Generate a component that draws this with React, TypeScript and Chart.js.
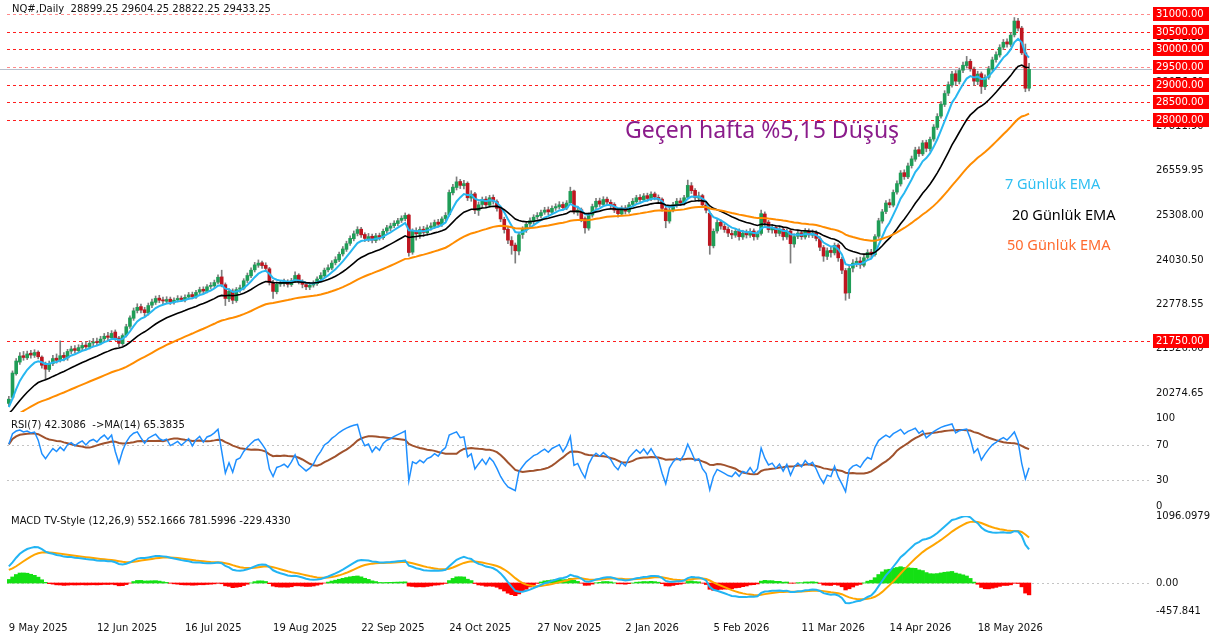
import React, { useEffect, useRef } from 'react';
import { Chart, registerables } from 'chart.js';

Chart.register(...registerables);

const FONT = "'DejaVu Sans', sans-serif";
Chart.defaults.font.family = FONT;
Chart.defaults.font.size = 10;
Chart.defaults.color = '#111';

// ---------- DATA ----------
const xTickLabels = ['9 May 2025', '12 Jun 2025', '16 Jul 2025', '19 Aug 2025', '22 Sep 2025', '24 Oct 2025', '27 Nov 2025', '2 Jan 2026', '5 Feb 2026', '11 Mar 2026', '14 Apr 2026', '18 May 2026'];
const barsPerXLabel = 24;
const emptySlotsRight = 33;

const opens = [19980,20150,20820,21150,21330,21270,21400,21340,21430,21290,
21070,20940,21110,21260,21190,21340,21270,21460,21530,21470,
21550,21630,21570,21690,21730,21690,21810,21890,21840,22000,
21830,21670,21910,22160,22390,22610,22720,22630,22540,22760,
22840,22960,22910,22870,22930,22850,22910,22960,22910,22990,
23060,22990,23130,23210,23150,23290,23310,23410,23560,23340,
22940,23160,22890,23210,23240,23460,23590,23760,23890,23960,
23890,23790,23410,23140,23360,23370,23430,23340,23440,23610,
23430,23340,23270,23330,23370,23510,23590,23760,23810,23960,
24040,24210,24340,24510,24640,24790,24910,24760,24640,24710,
24590,24730,24670,24860,24940,25010,25070,25160,25210,25310,
24260,24860,24770,24910,24810,24960,24990,25110,25040,25210,
25320,25940,26090,26260,26140,26210,25790,25910,25440,25610,
25760,25590,25810,25690,25510,25190,24910,24590,24460,24290,
24760,24890,25060,25140,25260,25290,25390,25460,25390,25510,
25540,25610,25510,25660,25990,25390,25460,25210,24940,25310,
25540,25710,25610,25760,25670,25610,25440,25340,25510,25410,
25610,25690,25810,25740,25860,25770,25910,25810,25760,25490,
25140,25460,25590,25710,25640,25810,26140,26010,25790,25860,
25590,25360,24440,24860,25110,24990,24910,24790,24740,24860,
24690,24810,24740,24860,24690,24790,25340,25110,24890,24960,
24790,24910,24690,24860,24490,24710,24810,24690,24860,24740,
24810,24640,24390,24140,24310,24240,24460,24060,23740,23110,
23810,23940,24010,23890,24110,24260,24190,24710,25140,25410,
25660,25590,25960,26190,26510,26390,26710,26890,27160,27040,
27360,27190,27460,27790,28110,28440,28760,28990,29310,29090,
29410,29540,29660,29440,29090,29310,28940,29210,29440,29710,
29840,30060,30210,30140,30410,30800,30600,29900,28899.25];

const highs = [20180,20900,21250,21420,21450,21460,21480,21500,21470,21330,
21150,21180,21340,21380,21750,21420,21510,21600,21620,21640,
21700,21720,21760,21820,21830,21880,21960,21990,22040,22060,
21880,21950,22220,22460,22680,22800,22790,22700,22820,22930,
23020,23040,22990,23000,22990,22970,23030,23020,23050,23120,
23130,23180,23270,23280,23340,23400,23470,23620,23750,23390,
23230,23220,23260,23330,23510,23670,23820,23970,24040,24010,
23960,23830,23460,23420,23460,23500,23480,23520,23700,23650,
23480,23400,23390,23450,23560,23680,23810,23900,24020,24130,
24260,24420,24570,24720,24860,24980,24960,24810,24790,24770,
24790,24800,24910,25020,25080,25150,25220,25290,25370,25340,
24920,24950,24980,24990,25030,25090,25170,25190,25260,25380,
26020,26180,26390,26320,26290,26250,26000,25950,25680,25820,
25830,25870,25880,25740,25560,25250,24980,24700,24520,24830,
24980,25120,25230,25320,25380,25450,25530,25540,25570,25630,
25690,25680,25720,26100,26020,25560,25510,25260,25370,25620,
25780,25790,25830,25820,25740,25660,25500,25570,25580,25670,
25780,25870,25890,25920,25930,25970,25960,25880,25800,25540,
25520,25670,25780,25790,25870,26300,26230,26060,25960,25900,
25650,25400,24920,25180,25170,25060,24980,24880,24930,24920,
24880,24890,24930,24920,24860,25450,25400,25160,25050,25020,
24970,24960,24920,24900,24780,24880,24870,24930,24920,24890,
24870,24700,24450,24380,24420,24520,24500,24120,23800,23880,
24050,24100,24120,24180,24330,24340,24760,25220,25470,25720,
25760,26020,26280,26570,26590,26780,26980,27230,27240,27420,
27430,27520,27870,28180,28520,28830,29080,29380,29400,29470,
29640,29800,29720,29500,29380,29360,29280,29520,29780,29930,
30130,30280,30300,30470,30900,30880,30650,30150,29604.25];

const lows = [19900,20100,20780,21080,21200,21220,21260,21280,21240,20980,
20650,20880,21050,21120,21150,21180,21200,21390,21400,21420,
21480,21500,21520,21610,21620,21640,21740,21760,21790,21760,
21580,21620,21860,22100,22330,22540,22540,22440,22480,22690,
22780,22830,22800,22810,22780,22790,22850,22860,22850,22930,
22940,22950,23080,23090,23110,23230,23260,23360,23280,22750,
22860,22800,22840,23120,23190,23400,23540,23700,23830,23800,
23720,23330,22950,23080,23290,23300,23270,23290,23400,23360,
23250,23200,23200,23270,23320,23450,23540,23700,23760,23900,
23990,24150,24280,24450,24580,24720,24680,24560,24560,24520,
24530,24600,24620,24800,24870,24950,25010,25100,25150,24150,
24200,24600,24650,24700,24740,24880,24930,24980,24990,25150,
25280,25880,26020,26060,26050,25720,25700,25350,25300,25520,
25520,25540,25620,25420,25120,24800,24500,24200,23950,24180,
24650,24820,24980,25060,25190,25230,25330,25320,25330,25440,
25480,25450,25460,25620,25340,25300,25120,24800,24880,25250,
25480,25550,25560,25600,25520,25380,25250,25290,25340,25360,
25550,25640,25680,25690,25700,25720,25740,25680,25420,24950,
25080,25400,25530,25580,25590,25760,25920,25720,25700,25520,
25370,24200,24380,24800,24910,24820,24700,24640,24680,24600,
24620,24660,24680,24600,24620,24740,25020,24820,24800,24700,
24720,24600,24620,23950,24400,24640,24620,24630,24680,24670,
24580,24300,24000,24050,24120,24180,24000,23650,22900,22950,
23700,23850,23800,23840,24050,24100,24150,24650,25080,25350,
25520,25540,25900,26130,26320,26340,26640,26830,26970,26990,
27100,27120,27400,27730,28050,28380,28690,28930,28980,29020,
29340,29470,29380,28980,29000,28750,28860,29150,29380,29640,
29780,29990,30060,30080,30350,30520,29850,28800,28822.25];

const closes = [20100,20840,21180,21320,21280,21380,21350,21420,21300,21060,
20950,21100,21250,21200,21330,21280,21450,21520,21480,21560,
21620,21580,21680,21720,21700,21800,21880,21850,21960,21820,
21680,21900,22150,22400,22600,22700,22620,22550,22750,22850,
22950,22900,22880,22920,22860,22900,22950,22920,22980,23050,
23000,23120,23200,23160,23280,23320,23400,23550,23350,22950,
23150,22900,23200,23250,23450,23600,23750,23900,23950,23880,
23800,23400,23150,23350,23380,23420,23350,23450,23600,23420,
23350,23280,23320,23380,23500,23600,23750,23820,23950,24050,
24200,24350,24500,24650,24780,24900,24750,24650,24700,24600,
24720,24680,24850,24950,25000,25080,25150,25220,25300,24250,
24850,24780,24900,24820,24950,25000,25100,25050,25200,25300,
25950,26100,26250,26150,26200,25800,25900,25450,25600,25750,
25600,25800,25700,25500,25200,24900,24600,24450,24300,24750,
24900,25050,25150,25250,25300,25380,25450,25400,25500,25550,
25600,25520,25650,25980,25400,25450,25200,24950,25300,25550,
25700,25620,25750,25680,25600,25450,25350,25500,25420,25600,
25700,25800,25750,25850,25780,25900,25820,25750,25500,25150,
25450,25600,25700,25650,25800,26150,26000,25800,25850,25600,
25450,24450,24850,25100,25000,24900,24800,24750,24850,24700,
24800,24750,24850,24700,24780,25350,25100,24900,24950,24800,
24900,24700,24850,24500,24700,24800,24700,24850,24750,24800,
24650,24400,24150,24300,24250,24450,24100,23750,23100,23800,
23950,24000,23900,24100,24250,24200,24700,25150,25400,25650,
25600,25950,26200,26500,26400,26700,26900,27150,27050,27350,
27200,27450,27800,28100,28450,28750,29000,29300,29100,29400,
29550,29650,29450,29100,29300,28950,29200,29450,29700,29850,
30050,30200,30150,30400,30800,30600,29900,28899.25,29433.25];

const ema7Seed = 19800;
const ema20Seed = 19650;
const ema50Seed = 19500;
const rsiPrevClose = 19950;
const rsiGainSeed = 120;
const rsiLossSeed = 60;
const macdFastSeed = 19700;
const macdSlowSeed = 19440;
const macdSignalSeed = 200;

const priceTicks = [20274.65, 21526.6, 22778.55, 24030.5, 25308.0, 26559.95, 27811.9, 29076.6, 30341.35];
const levelLines = [31000, 30500, 30000, 29500, 29000, 28500, 28000, 21750];
const lightLevels = [31000, 29500];
const lastPrice = 29433.25;
const rsiTicks = [0, 30, 70, 100];
const rsiLevels = [70, 30];
const macdTicks = [-457.841, 0, 1096.0979];
const macdTickLabels = ['-457.841', '0.00', '1096.0979'];

const headerText = 'NQ#,Daily  28899.25 29604.25 28822.25 29433.25';
const rsiText = 'RSI(7) 42.3086  ->MA(14) 65.3835';
const macdText = 'MACD TV-Style (12,26,9) 552.1666 781.5996 -229.4330';
const noteText = 'Geçen hafta %5,15 Düşüş';
const emaLabels = ['7 Günlük EMA', '20 Günlük EMA', '50 Günlük EMA'];

// ---------- indicator helpers ----------
function emaSeries(values: number[], period: number, seed: number): number[] {
  const k = 2 / (period + 1);
  let prev = seed;
  return values.map((v) => {
    prev = prev + k * (v - prev);
    return prev;
  });
}
function rsiSeries(values: number[], period: number, prevClose: number, g0: number, l0: number): number[] {
  let ag = g0, al = l0, pc = prevClose;
  return values.map((v) => {
    const ch = v - pc;
    pc = v;
    ag = (ag * (period - 1) + Math.max(ch, 0)) / period;
    al = (al * (period - 1) + Math.max(-ch, 0)) / period;
    return al === 0 ? 100 : 100 - 100 / (1 + ag / al);
  });
}
function smaSeries(values: number[], period: number): number[] {
  return values.map((_, i) => {
    const from = Math.max(0, i - period + 1);
    let s = 0;
    for (let j = from; j <= i; j++) s += values[j];
    return s / (i - from + 1);
  });
}

const nBars = closes.length;
const slotCount = nBars + emptySlotsRight;
const categories = Array.from({ length: slotCount }, (_, i) =>
  i % barsPerXLabel === 0 && xTickLabels[i / barsPerXLabel] ? xTickLabels[i / barsPerXLabel] : ''
);

const ema7 = emaSeries(closes, 7, ema7Seed);
const ema20 = emaSeries(closes, 20, ema20Seed);
const ema50 = emaSeries(closes, 50, ema50Seed);
const rsi = rsiSeries(closes, 7, rsiPrevClose, rsiGainSeed, rsiLossSeed);
const rsiMa = smaSeries(rsi, 14);
const fast = emaSeries(closes, 12, macdFastSeed);
const slow = emaSeries(closes, 26, macdSlowSeed);
const macd = fast.map((v, i) => v - slow[i]);
const signal = emaSeries(macd, 9, macdSignalSeed);
const hist = macd.map((v, i) => v - signal[i]);

// ---------- common config ----------
const AXIS_W = 59;
const axisFont = { family: FONT, size: 10 };

function xScale(show: boolean): any {
  return {
    type: 'category',
    offset: true,
    display: show,
    grid: { display: false },
    border: { display: false },
    ticks: {
      display: show,
      autoSkip: false,
      maxRotation: 0,
      minRotation: 0,
      align: 'start',
      padding: 3,
      font: axisFont,
      color: '#111',
    },
    afterFit: (s: any) => {
      if (show) s.height = 26;
    },
  };
}

function yScale(min: number, max: number, tickValues: number[], fmt: (v: number) => string): any {
  return {
    position: 'right',
    min,
    max,
    grid: { display: false, drawTicks: false },
    border: { display: false },
    ticks: { padding: 4, font: axisFont, color: '#111', callback: (v: any) => fmt(Number(v)) },
    afterBuildTicks: (s: any) => {
      s.ticks = tickValues.map((v) => ({ value: v }));
    },
    afterFit: (s: any) => {
      s.width = AXIS_W;
    },
  };
}

const baseOptions = (padTop: number, padBottom: number) => ({
  responsive: false,
  animation: false as const,
  devicePixelRatio: 1,
  events: [] as any[],
  layout: { padding: { left: 7, right: 0, top: padTop, bottom: padBottom } },
  plugins: { legend: { display: false }, tooltip: { enabled: false } },
});

const mainOverlay = {
  id: 'mainOverlay',
  beforeDatasetsDraw(chart: any) {
    const { ctx, chartArea } = chart;
    const y = chart.scales.y;
    ctx.save();
    const by = Math.round(y.getPixelForValue(lastPrice)) + 0.5;
    ctx.strokeStyle = '#b8bfcc';
    ctx.lineWidth = 1;
    ctx.beginPath();
    ctx.moveTo(0, by);
    ctx.lineTo(chartArea.right, by);
    ctx.stroke();
    ctx.setLineDash([3, 3]);
    levelLines.forEach((v) => {
      const py = Math.round(y.getPixelForValue(v)) + 0.5;
      ctx.strokeStyle = lightLevels.includes(v) ? '#ff8a8a' : '#ff1e1e';
      ctx.beginPath();
      ctx.moveTo(chartArea.left, py);
      ctx.lineTo(chartArea.right, py);
      ctx.stroke();
    });
    ctx.restore();
  },
  afterDraw(chart: any) {
    const { ctx, chartArea } = chart;
    const y = chart.scales.y;
    ctx.save();
    ctx.font = `10px ${FONT}`;
    ctx.textBaseline = 'middle';
    ctx.textAlign = 'left';
    levelLines.forEach((v) => {
      const py = Math.round(y.getPixelForValue(v));
      ctx.fillStyle = '#ff0000';
      ctx.fillRect(chartArea.right + 1, py - 7, 56, 14);
      ctx.fillStyle = '#ffffff';
      ctx.fillText(v.toFixed(2), chartArea.right + 4, py + 0.5);
    });
    ctx.restore();
  },
};

function dottedLevels(id: string, scaleId: string, values: number[]) {
  return {
    id,
    beforeDatasetsDraw(chart: any) {
      const { ctx, chartArea } = chart;
      const s = chart.scales[scaleId];
      ctx.save();
      ctx.strokeStyle = '#c4c4c4';
      ctx.lineWidth = 1;
      ctx.setLineDash([2, 3]);
      values.forEach((v) => {
        const py = Math.round(s.getPixelForValue(v)) + 0.5;
        ctx.beginPath();
        ctx.moveTo(chartArea.left, py);
        ctx.lineTo(chartArea.right, py);
        ctx.stroke();
      });
      ctx.restore();
    },
  };
}

const lineDs = (label: string, data: number[], color: string, width: number, order: number): any => ({
  type: 'line',
  label,
  data,
  borderColor: color,
  backgroundColor: color,
  borderWidth: width,
  pointRadius: 0,
  tension: 0,
  fill: false,
  order,
});

export default function App() {
  const mainRef = useRef<HTMLCanvasElement>(null);
  const rsiRef = useRef<HTMLCanvasElement>(null);
  const macdRef = useRef<HTMLCanvasElement>(null);

  useEffect(() => {
    document.body.style.margin = '0';
    const charts: Chart[] = [];
    const bull = closes.map((c, i) => c >= opens[i]);

    charts.push(
      new Chart(mainRef.current as HTMLCanvasElement, {
        type: 'bar',
        data: {
          labels: categories,
          datasets: [
            lineDs('EMA50', ema50, '#ff8c00', 2, 0),
            lineDs('EMA20', ema20, '#000000', 1.6, 0),
            lineDs('EMA7', ema7, '#27b7f0', 2, 0),
            {
              type: 'bar',
              label: 'body',
              data: opens.map((o, i) => [o, closes[i]]),
              backgroundColor: bull.map((b) => (b ? '#1f9d57' : '#be1620')),
              borderWidth: 0,
              barThickness: 3,
              minBarLength: 1,
              grouped: false,
              order: 2,
            } as any,
            {
              type: 'bar',
              label: 'wick',
              data: lows.map((l, i) => [l, highs[i]]),
              backgroundColor: '#7d7d7d',
              borderWidth: 0,
              barThickness: 1,
              grouped: false,
              order: 3,
            } as any,
          ],
        },
        options: {
          ...baseOptions(18, 14),
          scales: {
            x: xScale(false),
            y: yScale(19737, 31226, priceTicks, (v) => v.toFixed(2)),
          },
        } as any,
        plugins: [mainOverlay],
      })
    );

    charts.push(
      new Chart(rsiRef.current as HTMLCanvasElement, {
        type: 'line',
        data: {
          labels: categories,
          datasets: [
            lineDs('MA', rsiMa, '#a0522d', 2, 1),
            lineDs('RSI', rsi, '#1e8fff', 1.5, 0),
          ],
        },
        options: {
          ...baseOptions(18, 14),
          scales: {
            x: xScale(false),
            y: yScale(-4.3, 103.1, rsiTicks, (v) => String(Math.round(v))),
          },
        } as any,
        plugins: [dottedLevels('rsiLevels', 'y', rsiLevels)],
      })
    );

    charts.push(
      new Chart(macdRef.current as HTMLCanvasElement, {
        type: 'bar',
        data: {
          labels: categories,
          datasets: [
            lineDs('MACD', macd, '#22b4f3', 2, 0),
            lineDs('Signal', signal, '#ffa500', 2, 0),
            {
              type: 'bar',
              label: 'Hist',
              data: hist,
              backgroundColor: hist.map((h) => (h >= 0 ? '#14e014' : '#ff0000')),
              borderWidth: 0,
              barPercentage: 1,
              categoryPercentage: 1,
              order: 2,
            } as any,
          ],
        },
        options: {
          ...baseOptions(18, 0),
          scales: {
            x: xScale(true),
            y: yScale(-457.841, 1096.0979, macdTicks, (v) => {
              const k = macdTicks.indexOf(v);
              return k >= 0 ? macdTickLabels[k] : '';
            }),
          },
        } as any,
        plugins: [dottedLevels('macdZero', 'y', [0])],
      })
    );

    return () => charts.forEach((c) => c.destroy());
  }, []);

  const small: React.CSSProperties = {
    position: 'absolute',
    fontFamily: FONT,
    fontSize: 10,
    lineHeight: '10px',
    color: '#111',
    whiteSpace: 'pre',
  };
  const emaStyle = (color: string, left: number, top: number): React.CSSProperties => ({
    position: 'absolute',
    left,
    top,
    fontFamily: "'Noto Sans', sans-serif",
    fontSize: 14.5,
    lineHeight: '14.5px',
    color,
    whiteSpace: 'pre',
  });

  return (
    <div style={{ position: 'relative', width: 1211, height: 637, overflow: 'hidden', background: '#ffffff' }}>
      <canvas ref={mainRef} width={1211} height={438} style={{ position: 'absolute', left: 0, top: -12 }} />
      <canvas ref={rsiRef} width={1211} height={126} style={{ position: 'absolute', left: 0, top: 398 }} />
      <canvas ref={macdRef} width={1211} height={139} style={{ position: 'absolute', left: 0, top: 498 }} />
      <div style={{ ...small, left: 12, top: 4 }}>{headerText}</div>
      <div style={{ ...small, left: 11, top: 420 }}>{rsiText}</div>
      <div style={{ ...small, left: 11, top: 516 }}>{macdText}</div>
      <div
        style={{
          position: 'absolute',
          left: 625,
          top: 118,
          fontFamily: "'Noto Sans', sans-serif",
          fontSize: 23,
          lineHeight: '23px',
          color: '#8b1c8b',
          whiteSpace: 'pre',
        }}
      >
        {noteText}
      </div>
      <div style={emaStyle('#2fbff2', 1005, 176)}>{emaLabels[0]}</div>
      <div style={emaStyle('#000000', 1012, 207)}>{emaLabels[1]}</div>
      <div style={emaStyle('#ff6a2e', 1007, 237)}>{emaLabels[2]}</div>
    </div>
  );
}
